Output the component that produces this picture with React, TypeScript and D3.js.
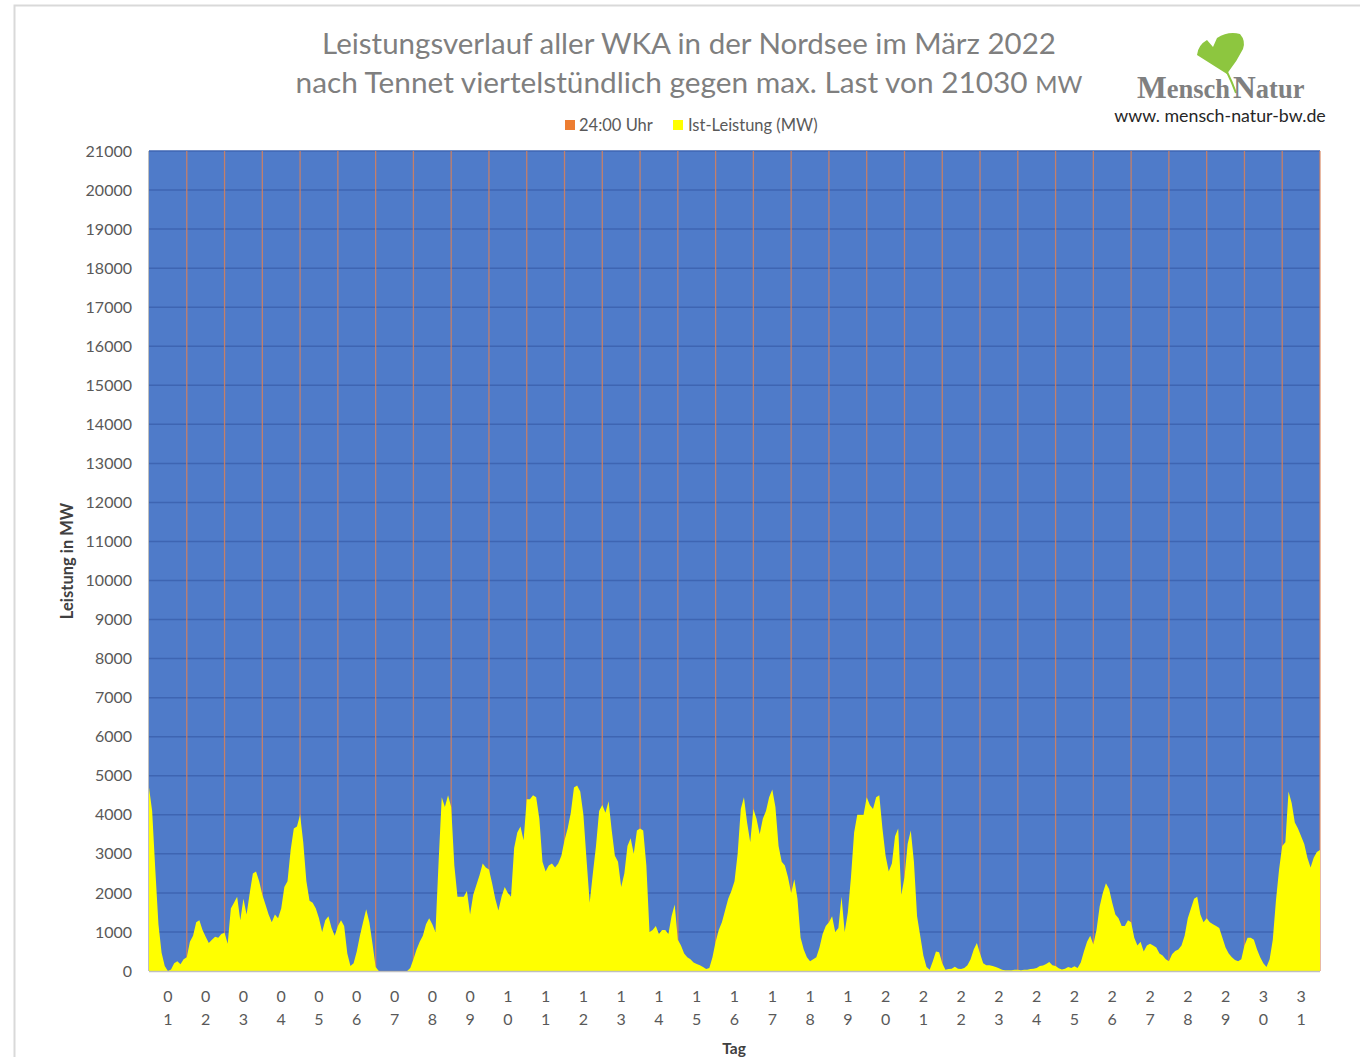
import React from "react";
import * as d3 from "d3";

// Ist-Leistung (MW), 12 readings per day (every 2 h)
const week1 = [
  4700, 4100, 2600, 1200, 470, 130, 0, 40, 200, 250, 170, 300,
  350, 750, 900, 1250, 1300, 1050, 880, 720, 800, 880, 850, 950,
  980, 700, 1600, 1750, 1900, 1300, 1850, 1450, 2000, 2500, 2550, 2300,
  1950, 1700, 1450, 1250, 1450, 1350, 1600, 2150, 2300, 3100, 3650, 3700,
  4000, 3300, 2300, 1800, 1750, 1600, 1350, 1000, 1300, 1400, 1100, 900,
  1150, 1300, 1150, 450, 130, 200, 500, 900, 1250, 1580, 1250, 700,
  100, 0, 0, 0, 0, 0, 0, 0, 0, 0, 0, 80,
];
const week2 = [
  300, 550, 750, 900, 1200, 1350, 1200, 1000, 2800, 4450, 4200, 4500,
  4200, 2700, 1900, 1900, 1900, 2050, 1450, 1950, 2200, 2450, 2750, 2650,
  2600, 2250, 1850, 1550, 1900, 2150, 2000, 1900, 3150, 3550, 3700, 3350,
  4400, 4400, 4500, 4450, 3900, 2800, 2550, 2700, 2750, 2650, 2750, 2950,
  3350, 3650, 4050, 4700, 4750, 4600, 4000, 2850, 1750, 2500, 3200, 4100,
  4250, 4050, 4350, 3600, 2950, 2800, 2150, 2500, 3200, 3400, 3000, 3600,
  3650, 3600, 2700, 1000, 1050, 1150, 950, 1050, 1050, 950, 1400, 1700,
];
const week3 = [
  800, 650, 450, 350, 300, 220, 180, 150, 100, 50, 80, 350,
  750, 1050, 1250, 1550, 1850, 2050, 2300, 3000, 4150, 4450, 3800, 3300,
  4150, 3900, 3500, 3900, 4100, 4450, 4650, 4200, 3200, 2800, 2700, 2400,
  2000, 2350, 1850, 850, 550, 350, 250, 300, 350, 600, 950, 1150,
  1250, 1400, 1000, 1100, 1900, 1000, 1500, 2400, 3550, 4000, 4000, 4000,
  4450, 4250, 4150, 4450, 4500, 3650, 2950, 2550, 2750, 3450, 3650, 1950,
  2400, 3250, 3600, 2800, 1400, 900, 400, 100, 30, 250, 500, 480,
];
const week4 = [
  200, 30, 50, 60, 110, 60, 50, 80, 150, 300, 550, 720,
  450, 200, 150, 150, 130, 100, 70, 30, 20, 20, 20, 30,
  30, 20, 30, 30, 50, 60, 80, 130, 140, 180, 230, 150,
  130, 70, 40, 60, 100, 80, 120, 80, 220, 500, 750, 900,
  680, 1050, 1650, 2000, 2250, 2100, 1750, 1450, 1350, 1150, 1150, 1300,
  1250, 850, 650, 750, 500, 650, 700, 650, 600, 450, 400, 300,
  250, 430, 510, 550, 650, 900, 1350, 1600, 1850, 1900, 1450, 1250,
];
const week5 = [
  1350, 1250, 1200, 1150, 1100, 850, 600, 450, 350, 280, 250, 300,
  650, 850, 850, 800, 550, 350, 200, 100, 300, 800, 1800, 2600,
  3200, 3300, 4600, 4300, 3800, 3650, 3450, 3250, 2900, 2650, 2900, 3050,
  3100,
];

const istLeistung = [...week1, ...week2, ...week3, ...week4, ...week5];
const samplesPerDay = 12;
const dayLabels = Array.from({ length: 31 }, (_, i) => String(i + 1).padStart(2, "0"));
const yTicks = d3.range(0, 21001, 1000);
const yMax = 21000;

const FONT = "Lato, 'Open Sans', sans-serif";

export default function App() {
  const left = 149, right = 1320, top = 151, bottom = 971;
  const x = d3.scaleLinear().domain([0, 31]).range([left, right]);
  const y = d3.scaleLinear().domain([0, yMax]).range([bottom, top]);
  const band = d3.scaleBand<string>().domain(dayLabels).range([left, right]);

  const area = d3
    .area<number>()
    .x((_, i) => x(i / samplesPerDay))
    .y0(y(0))
    .y1((d) => y(d))
    .curve(d3.curveLinear);

  return (
    <svg
      width={1360}
      height={1057}
      style={{ position: "absolute", left: 0, top: 0, background: "#fff" }}
    >
      <rect x={14.5} y={5.5} width={1400} height={1100} fill="#fff" stroke="#D9D9D9" strokeWidth={2} />

      {/* Title */}
      <text x={689} y={54} textAnchor="middle" fontFamily={FONT} fontSize={29.5} fill="#7F7F7F">
        Leistungsverlauf aller WKA in der Nordsee im März 2022
      </text>
      <text x={689} y={93} textAnchor="middle" fontFamily={FONT} fontSize={29.8} fill="#7F7F7F">
        nach Tennet viertelstündlich gegen max. Last von 21030 <tspan fontSize={24}>MW</tspan>
      </text>

      {/* Legend */}
      <rect x={565} y={120} width={10} height={10} fill="#ED7D31" />
      <text x={579} y={131} fontFamily={FONT} fontSize={16.5} fill="#595959">24:00 Uhr</text>
      <rect x={673} y={120} width={10} height={10} fill="#FFFF00" />
      <text x={688} y={131} fontFamily={FONT} fontSize={16.5} fill="#595959">Ist-Leistung (MW)</text>

      {/* Logo */}
      <path
        d="M1227 74 L1197 55 Q1198 45 1207 40 L1213 47 L1217 38 Q1228 31 1240 34 Q1246 41 1243 49 Q1237 61 1229 71 Z"
        fill="#8DC63F"
      />
      <path d="M1227 72 Q1232 82 1236 93" fill="none" stroke="#8DC63F" strokeWidth={2} />
      <text x={1137} y={98} fontFamily="'Liberation Serif', serif" fontWeight="bold" fill="#808080" fontSize={26.5}>
        <tspan fontSize={31.5}>M</tspan>ensch<tspan dx={3} fontSize={31.5}>N</tspan>atur
      </text>
      <text x={1220} y={122} textAnchor="middle" fontFamily={FONT} fontSize={17.8} fill="#262626">
        www. mensch-natur-bw.de
      </text>

      {/* Plot background */}
      <rect x={left} y={top} width={right - left} height={bottom - top} fill="#4F7BC9" />
      {yTicks.map((t) => (
        <line key={t} x1={left} x2={right} y1={y(t)} y2={y(t)} stroke="#3E65B2" strokeWidth={1.5} />
      ))}

      {/* 24:00 Uhr markers */}
      {d3.range(1, 32).map((d) => (
        <line key={d} x1={x(d)} x2={x(d)} y1={y(yMax)} y2={y(0)} stroke="#D9805A" strokeWidth={1.3} opacity={0.85} />
      ))}

      {/* Ist-Leistung */}
      <path d={area(istLeistung) || ""} fill="#FFFF00" />

      {/* axes lines */}
      <line x1={left} x2={right} y1={bottom + 0.5} y2={bottom + 0.5} stroke="#BFBFBF" strokeWidth={1.5} />
      <line x1={left - 0.5} x2={left - 0.5} y1={top} y2={bottom} stroke="#BFBFBF" strokeWidth={1} />

      {/* Y ticks */}
      {yTicks.map((t) => (
        <text key={t} x={132} y={y(t)} dy="0.35em" textAnchor="end" fontFamily={FONT} fontSize={16} fill="#595959">
          {t}
        </text>
      ))}
      <text
        transform="translate(73,561) rotate(-90)"
        textAnchor="middle"
        fontFamily={FONT}
        fontSize={16.5}
        fontWeight="bold"
        fill="#404040"
      >
        Leistung in MW
      </text>

      {/* X labels */}
      {dayLabels.map((lab) => {
        const cx = (band(lab) || 0) + band.bandwidth() / 2;
        return (
          <g key={lab} fontFamily={FONT} fontSize={16} fill="#595959" textAnchor="middle">
            <text x={cx} y={1002}>{lab[0]}</text>
            <text x={cx} y={1025}>{lab[1]}</text>
          </g>
        );
      })}
      <text x={734} y={1054} textAnchor="middle" fontFamily={FONT} fontSize={15.5} fontWeight="bold" fill="#404040">
        Tag
      </text>
    </svg>
  );
}
